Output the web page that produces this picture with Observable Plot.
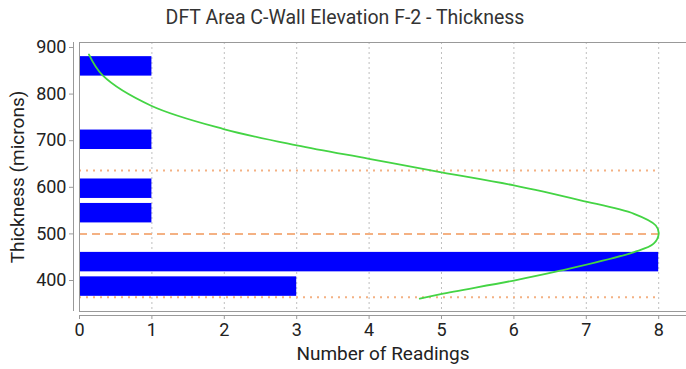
<!DOCTYPE html>
<html>
<head>
<meta charset="utf-8">
<script src="https://cdn.jsdelivr.net/npm/d3@7"></script>
<script src="https://cdn.jsdelivr.net/npm/@observablehq/plot@0.6"></script>
<style>
  html, body { margin: 0; padding: 0; background: #fff; }
  body { width: 686px; height: 369px; overflow: hidden; font-family: Roboto, sans-serif; }
  #title { height: 36px; line-height: 36px; text-align: center; font-size: 19.5px; color: #333; padding-left: 4px; }
</style>
</head>
<body>
<div id="title">DFT Area C-Wall Elevation F-2 - Thickness</div>
<div id="chart"></div>
<script>
// Histogram bins (thickness, microns) and counts
const binLow  = [365, 417.5, 470, 522.5, 575, 627.5, 680, 732.5, 785, 837.5];
const binHigh = [417.5, 470, 522.5, 575, 627.5, 680, 732.5, 785, 837.5, 890];
const counts  = [3, 8, 0, 1, 1, 0, 1, 0, 0, 1];

// Fitted normal curve: [count, thickness]
const curveCount = [0.13, 0.32, 0.99, 1.99, 3.0, 4.0, 5.0, 6.0, 6.92, 7.66, 7.96, 8.0, 7.93, 7.66, 6.64, 6.0, 4.99, 4.7];
const curveThick = [885, 840, 775, 725, 690, 661, 632, 604, 572, 543, 518, 500, 479, 461, 421, 400, 371, 361];

// Reference lines
const meanValue = 500;
const sigmaLines = [636, 364];
const maxCount = 8;

const xTicks = [0, 1, 2, 3, 4, 5, 6, 7, 8];
const yTicks = [400, 500, 600, 700, 800, 900];

const bars = binLow.map((lo, i) => ({lo, hi: binHigh[i], n: counts[i]})).filter(d => d.n > 0);
const curve = curveCount.map((c, i) => ({c, t: curveThick[i]}));

const yMin = 333.5, yMax = 910.7;

const chart = Plot.plot({
  width: 686,
  height: 333,
  marginLeft: 79,
  marginRight: 0,
  marginTop: 6,
  marginBottom: 58,
  style: {fontFamily: "Roboto, sans-serif", fontSize: "18px", color: "#222", background: "#fff"},
  x: {domain: [0, 8.384]},
  y: {domain: [yMin, yMax]},
  marks: [
    Plot.gridX(xTicks, {stroke: "#aaa", strokeOpacity: 0.75, strokeDasharray: "2,3"}),
    Plot.rectX(bars, {x1: 0, x2: "n", y1: "lo", y2: "hi", fill: "#0000ff", insetTop: 4.5, insetBottom: 0.5}),
    Plot.ruleY(sigmaLines, {x1: 0, x2: maxCount, stroke: "#f4b183", strokeWidth: 2, strokeDasharray: "2,5"}),
    Plot.ruleY([meanValue], {x1: 0, x2: maxCount, stroke: "#f4b183", strokeWidth: 2, strokeDasharray: "8,5"}),
    Plot.line(curve, {x: "c", y: "t", stroke: "#44d444", strokeWidth: 1.8, curve: "catmull-rom"}),
    Plot.frame({stroke: "#999"}),
    Plot.ruleX([0], {dx: -6, stroke: "#999"}),
    Plot.ruleY([yMin], {dy: 4, stroke: "#999"}),
    Plot.axisY(yTicks, {anchor: "left", tickSize: 4, tickPadding: 3, dx: -6, stroke: "#999", label: null, fontSize: 18}),
    Plot.axisX(xTicks, {anchor: "bottom", tickSize: 4, tickPadding: 4, dy: 4, stroke: "#999", label: null, fontSize: 18}),
    Plot.axisY([], {anchor: "left", tickSize: 0, label: "Thickness (microns)", labelAnchor: "center", labelArrow: "none", labelOffset: 69, fontSize: 19}),
    Plot.axisX([], {anchor: "bottom", tickSize: 0, label: "Number of Readings", labelAnchor: "center", labelArrow: "none", labelOffset: 48, fontSize: 19})
  ]
});
document.getElementById("chart").appendChild(chart);
</script>
</body>
</html>
